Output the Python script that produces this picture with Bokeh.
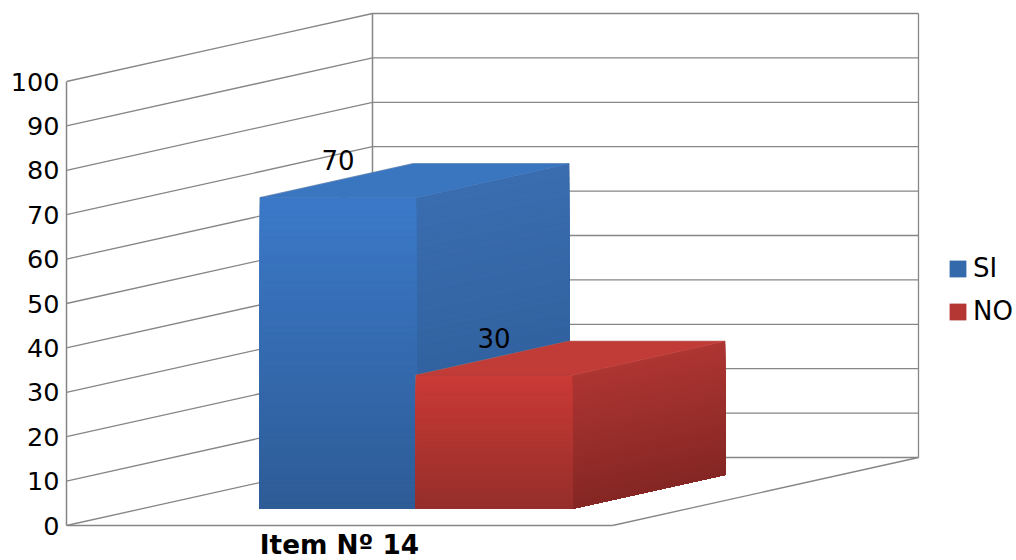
from bokeh.plotting import figure
from bokeh.models import Range1d, FixedTicker, Legend, LegendItem, ColumnDataSource
from bokeh.core.properties import value
from bokeh.embed import file_html
from bokeh.resources import INLINE

# ---- data ----
categories = ["Item Nº 14"]
series_names = ["SI", "NO"]
series_values = [70, 30]
value_ticks = [0, 10, 20, 30, 40, 50, 60, 70, 80, 90, 100]

# ---- styling / projection ----
FONT = "DejaVu Sans"
GRID = "#868686"
PX_PER_UNIT = 4.44
DX, DY = 306.0, 68.0 / PX_PER_UNIT   # oblique depth vector
WALL_L, WALL_R = 66.0, 612.0
BAR_W = 156.0
D0, D1 = 0.25, 0.75

palette = {
    "SI": dict(front=("#3b79c8", "#2e5c97"), side=("#3a6db0", "#2b5a94"), top="#3a75bf", legend="#3469ac"),
    "NO": dict(front=("#ca3a36", "#962f2b"), side=("#ad3532", "#852724"), top="#c13c37", legend="#b43733"),
}

def px(u, d):
    return u + DX * d

def py(v, d):
    return v + DY * d

def lerp(c1, c2, t):
    a = [int(c1[i:i + 2], 16) for i in (1, 3, 5)]
    b = [int(c2[i:i + 2], 16) for i in (1, 3, 5)]
    return "#%02x%02x%02x" % tuple(round(x + (y - x) * t) for x, y in zip(a, b))

p = figure(width=1016, height=560, output_backend="svg", toolbar_location=None,
           x_range=Range1d(66, 1016), y_range=Range1d(-35 / PX_PER_UNIT, 525 / PX_PER_UNIT),
           min_border_left=66, min_border_right=0, min_border_top=0, min_border_bottom=0,
           outline_line_color=None, background_fill_color="white", border_fill_color="white")
p.grid.visible = False

# axes
ya = p.yaxis[0]
ya.ticker = FixedTicker(ticks=value_ticks)
ya.bounds = (value_ticks[0], value_ticks[-1])
ya.axis_line_color = GRID
ya.axis_line_width = 1.5
ya.major_tick_line_color = None
ya.minor_tick_line_color = None
ya.major_tick_in = 0
ya.major_tick_out = 0
ya.minor_tick_in = 0
ya.minor_tick_out = 0
ya.major_label_text_font = FONT
ya.major_label_text_font_size = "25.5px"
ya.major_label_text_color = "black"
ya.major_label_standoff = 7

cx = (WALL_L + WALL_R) / 2
xa = p.xaxis[0]
xa.fixed_location = 0
xa.ticker = FixedTicker(ticks=[cx])
xa.major_label_overrides = {cx: categories[0]}
xa.bounds = (WALL_L, WALL_R)
xa.axis_line_color = GRID
xa.axis_line_width = 1.5
xa.major_tick_line_color = None
xa.minor_tick_line_color = None
xa.major_tick_in = 0
xa.major_tick_out = 0
xa.minor_tick_in = 0
xa.minor_tick_out = 0
xa.major_label_text_font = FONT
xa.major_label_text_font_style = "bold"
xa.major_label_text_font_size = "26.3px"
xa.major_label_text_color = "black"
xa.major_label_standoff = 4

# walls and floor
for v in value_ticks:
    p.line([px(WALL_L, 0), px(WALL_L, 1), px(WALL_R, 1)], [py(v, 0), py(v, 1), py(v, 1)],
           line_color=GRID, line_width=1.3)
top_v, bot_v = value_ticks[-1], value_ticks[0]
p.line([px(WALL_L, 1)] * 2, [py(bot_v, 1), py(top_v, 1)], line_color=GRID, line_width=1.5)
p.line([px(WALL_R, 1)] * 2, [py(bot_v, 1), py(top_v, 1)], line_color=GRID, line_width=1.3)
p.line([px(WALL_R, 0), px(WALL_R, 1)], [py(bot_v, 0), py(bot_v, 1)], line_color=GRID, line_width=1.3)

# bars (painter's order, gradient by nested strips)
STEPS = 48
u0 = cx - BAR_W * len(series_values) / 2
for i, (name, val) in enumerate(zip(series_names, series_values)):
    c = palette[name]
    ul, ur = u0 + i * BAR_W, u0 + (i + 1) * BAR_W
    # silhouette hairline
    sx = [px(ul, D0), px(ul, D0), px(ul, D1), px(ur, D1), px(ur, D1), px(ur, D0), px(ul, D0)]
    sy = [py(0, D0), py(val, D0), py(val, D1), py(val, D1), py(0, D1), py(0, D0), py(0, D0)]
    p.patch(sx, sy, fill_color=None, line_color="#9a9a9a", line_width=1.2, line_alpha=0.6)
    # side face
    xs, ys, cols = [], [], []
    for k in range(STEPS):
        h = val * (1 - k / STEPS)
        xs.append([px(ur, D0), px(ur, D1), px(ur, D1), px(ur, D0)])
        ys.append([py(0, D0), py(0, D1), py(h, D1), py(h, D0)])
        cols.append(lerp(*c["side"], k / (STEPS - 1)))
    p.patches(xs, ys, fill_color=cols, line_color=cols, line_width=0.5)
    # front face
    xs, ys, cols = [], [], []
    for k in range(STEPS):
        h = val * (1 - k / STEPS)
        xs.append([px(ul, D0), px(ur, D0), px(ur, D0), px(ul, D0)])
        ys.append([py(0, D0), py(0, D0), py(h, D0), py(h, D0)])
        cols.append(lerp(*c["front"], k / (STEPS - 1)))
    p.patches(xs, ys, fill_color=cols, line_color=cols, line_width=0.5)
    # top face
    p.patch([px(ul, D0), px(ur, D0), px(ur, D1), px(ul, D1)],
            [py(val, D0), py(val, D0), py(val, D1), py(val, D1)],
            fill_color=c["top"], line_color=c["top"], line_width=0.6)

# data labels
lab = ColumnDataSource(dict(
    x=[px(u0 + i * BAR_W, (D0 + D1) / 2) for i in range(len(series_values))],
    y=[py(v, (D0 + D1) / 2) for v in series_values],
    t=[str(v) for v in series_values],
))
p.text("x", "y", text="t", source=lab, text_font=value(FONT), text_font_size="26px",
       text_color="black", text_align="center", text_baseline="middle", x_offset=1.5, y_offset=-20.5)

# legend
items = []
for name in series_names:
    r = p.patch([cx, cx], [0, 0], fill_color=palette[name]["legend"], line_color=None)
    items.append(LegendItem(label=name, renderers=[r]))
leg = Legend(items=items, location=(881, 234), orientation="vertical",
             glyph_width=21, glyph_height=21, label_text_font=FONT, label_text_font_size="26px",
             label_text_color="black", label_standoff=5, label_height=29, spacing=13,
             padding=0, margin=0, border_line_color=None, background_fill_alpha=0)
p.add_layout(leg)

open("out.html", "w").write(file_html(p, INLINE))
